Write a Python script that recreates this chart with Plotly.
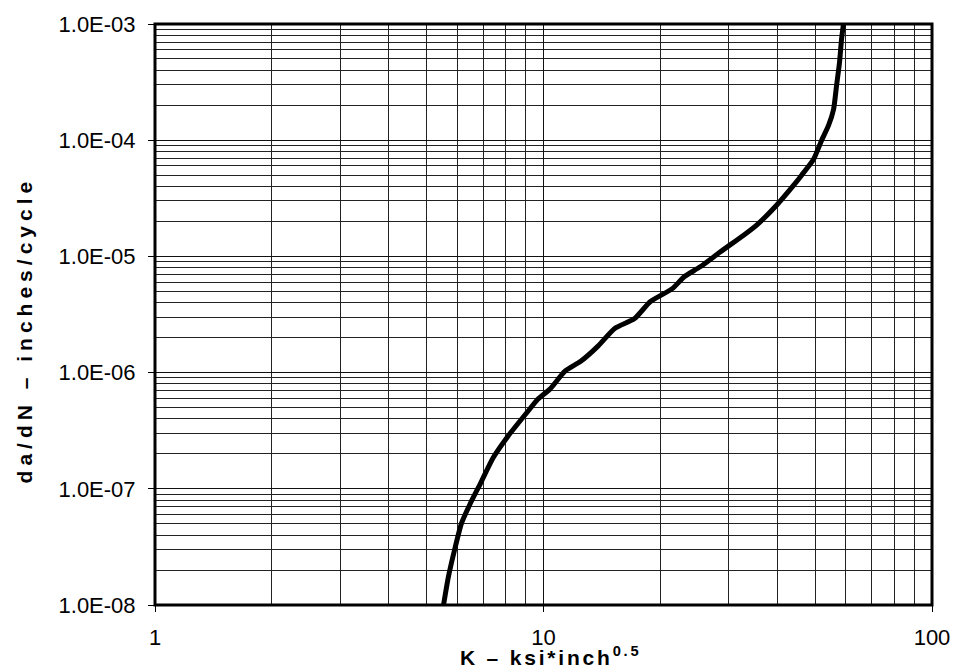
import plotly.graph_objects as go

# Data (stress intensity K vs crack growth rate da/dN)
k_values = [5.53, 5.69, 5.90, 6.15, 6.48, 6.88, 7.42, 8.11, 9.13, 9.68, 10.39,
            11.36, 12.47, 13.79, 15.25, 17.16, 18.85, 21.46, 23.03, 25.31, 28.48,
            32.81, 35.43, 39.86, 44.06, 46.18, 49.57, 51.97, 54.16, 55.79, 56.79,
            57.79, 58.48, 59.17]
dadn_values = [1.0e-8, 1.74e-8, 2.96e-8, 5.04e-8, 7.47e-8, 1.11e-7, 1.85e-7, 2.85e-7,
               4.67e-7, 5.92e-7, 7.21e-7, 1.03e-6, 1.25e-6, 1.68e-6, 2.40e-6, 2.92e-6,
               4.09e-6, 5.28e-6, 6.69e-6, 8.14e-6, 1.09e-5, 1.53e-5, 1.87e-5, 2.77e-5,
               4.10e-5, 5.00e-5, 6.85e-5, 9.96e-5, 1.34e-4, 1.84e-4, 2.94e-4, 4.64e-4,
               7.30e-4, 1.0e-3]

x_tick_vals = [1, 10, 100]
x_tick_text = ["1", "10", "100"]
y_tick_vals = [1e-8, 1e-7, 1e-6, 1e-5, 1e-4, 1e-3]
y_tick_text = ["1.0E-08", "1.0E-07", "1.0E-06", "1.0E-05", "1.0E-04", "1.0E-03"]

x_minor = [m * 10 ** d for d in range(0, 2) for m in range(2, 10)]
y_minor = [m * 10.0 ** d for d in range(-8, -3) for m in range(2, 10)]

FONT = "Liberation Sans, Arial, sans-serif"

fig = go.Figure()
fig.add_trace(go.Scatter(
    x=k_values, y=dadn_values, mode="lines",
    line=dict(color="black", width=5, shape="spline", smoothing=0.6),
    showlegend=False,
))

axis_common = dict(
    type="log",
    showgrid=True, gridcolor="#111111", gridwidth=1,
    showline=False, zeroline=False,
    ticks="outside", ticklen=6, tickcolor="black", tickwidth=1,
    tickfont=dict(family=FONT, size=22, color="black"),
)

fig.update_xaxes(
    **axis_common,
    range=[0, 2],
    tickvals=x_tick_vals, ticktext=x_tick_text,
    ticklabelstandoff=7,
    minor=dict(tickvals=x_minor, showgrid=True, gridcolor="#222222", gridwidth=1,
               ticks=""),
)
fig.update_yaxes(
    **axis_common,
    range=[-8, -3],
    tickvals=y_tick_vals, ticktext=y_tick_text,
    ticklabelstandoff=8,
    minor=dict(tickvals=y_minor, showgrid=True, gridcolor="#222222", gridwidth=1,
               ticks=""),
)

fig.add_shape(type="rect", xref="paper", yref="paper", x0=0, y0=0, x1=1, y1=1,
              line=dict(color="black", width=3), layer="above")

fig.add_annotation(
    text="K – ksi*inch<sup>0.5</sup>", xref="paper", yref="paper",
    x=0.5096, y=0, xanchor="center", yanchor="top", yshift=-36, showarrow=False,
    font=dict(family=FONT, size=21, color="black", weight="bold"),
)
fig.add_annotation(
    text="da/dN – inches/cycle", xref="paper", yref="paper",
    x=0, y=0.4726, xanchor="center", yanchor="middle", xshift=-131,
    textangle=-90, showarrow=False,
    font=dict(family=FONT, size=21, color="black", weight="bold"),
)

fig.update_layout(
    width=962, height=671,
    margin=dict(l=155, r=26, t=21, b=66),
    paper_bgcolor="white", plot_bgcolor="white",
)

# widen the letter spacing of the two axis titles, as in the reference
post_js = """
var gd = document.getElementById('{plot_id}');
var spacing = ['2.8px', '5px'];
gd.querySelectorAll('.annotation-text').forEach(function(t, i) {
  t.setAttribute('letter-spacing', spacing[i] || '0px');
});
"""

fig.write_html("out.html", post_script=post_js)
